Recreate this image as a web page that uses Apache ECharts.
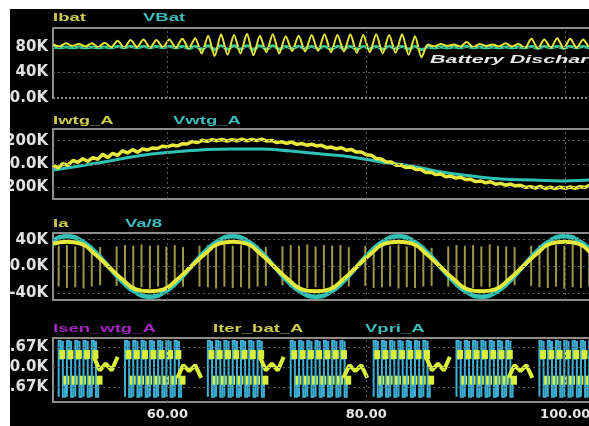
<!DOCTYPE html>
<html>
<head>
<meta charset="utf-8">
<script src="https://cdn.jsdelivr.net/npm/echarts@6.0.0/dist/echarts.min.js"></script>
<style>
html, body { margin: 0; padding: 0; background: #fff; }
#scope { position: absolute; left: 10px; top: 9px; width: 579px; height: 417px; }
</style>
</head>
<body>
<div id="scope"></div>
<script>
// time axis (ms)
var xTicks = [60, 80, 100];

// panel 1 : Ibat / VBat
var batT = [48.5,49.15,49.8,50.45,51.1,51.75,52.4,53.05,53.7,54.35,
  55.0,55.65,56.3,56.95,57.6,58.25,58.9,59.55,60.2,60.85,
  61.5,62.15,62.8,63.45,64.1,64.75,65.4,66.05,66.7,67.35,
  68.0,68.65,69.3,69.95,70.6,71.25,71.9,72.55,73.2,73.85,
  74.5,75.15,75.8,76.45,77.1,77.75,78.4,79.05,79.7,80.35,
  81.0,81.65,82.3,82.95,83.6,84.25,84.9,85.55,86.2,86.85,
  87.5,88.15,88.8,89.45,90.1,90.75,91.4,92.05,92.7,93.35,
  94.0,94.65,95.3,95.95,96.6,97.25,97.9,98.55,99.2,99.85,
  100.5,101.15,101.8,102.45,103.1,103.75];
var ibat = [84,81,86,82,85,81,86,80,87,80,
  90,79,91,80,92,79,91,80,92,79,
  93,78,94,70,98,66,100,68,99,70,
  101,67,98,72,100,70,97,74,98,73,
  99,74,100,72,99,73,100,71,99,72,
  100,70,99,71,100,68,97,64,84,81,
  85,82,84,81,88,80,85,82,84,81,
  86,81,85,79,93,78,92,79,94,78,
  93,79,92,80,93,80];
var vbat = [80,79,80,79,80,79,80,79,80,79,
  81,79,81,79,81,79,81,79,81,79,
  81,78,81,77,82,76,82,77,82,77,
  82,76,82,77,82,77,81,78,81,78,
  81,78,81,77,81,78,81,77,81,78,
  81,77,81,78,81,77,81,76,80,79,
  80,79,80,79,81,79,80,79,80,79,
  80,79,80,79,81,78,81,79,81,78,
  81,79,81,79,81,79];

// panel 2 : Iwtg_A / Vwtg_A
var wtgT = [48.5,49,49.5,50,50.5,51,51.5,52,52.5,53,53.5,54,54.5,55,55.5,56,56.5,57,
  57.5,58,58.5,59,59.5,60,60.5,61,61.5,62,62.5,63,63.5,64,64.5,65,65.5,66,66.5,67,
  67.5,68,68.5,69,69.5,70,70.5,71,71.5,72,72.5,73,73.5,74,74.5,75,75.5,76,76.5,77,
  77.5,78,78.5,79,79.5,80,80.5,81,81.5,82,82.5,83,83.5,84,84.5,85,85.5,86,86.5,87,
  87.5,88,88.5,89,89.5,90,90.5,91,91.5,92,92.5,93,93.5,94,94.5,95,95.5,96,96.5,97,
  97.5,98,98.5,99,99.5,100,100.5,101,101.5,102,102.5,103,103.5];
var iwtg = [-8,-34,4,-11,30,15,45,22,55,41,83,55,92,74,113,95,123,100,
  130,120,138,133,153,147,162,155,173,171,193,184,203,194,209,200,210,197,209,199,
  214,198,211,200,213,197,202,184,191,177,188,168,176,161,170,155,160,140,145,130,
  139,118,125,102,103,80,76,47,43,18,18,-11,-10,-31,-26,-47,-48,-72,-71,-91,
  -86,-109,-103,-121,-114,-133,-131,-151,-145,-161,-152,-174,-166,-182,-172,-187,-182,-201,-194,-206,
  -192,-210,-198,-211,-198,-208,-197,-208,-195,-201,-182,-196,-180];
var vwtgT = [48.5,51.2,54.2,57.3,60.3,63.3,66.4,69.4,72.4,75.5,
  78.5,81.5,84.5,87.6,90.6,93.6,96.7,99.7,102.6,103.6];
var vwtg = [-51,-17,26,72,100,120,129,129,111,86,
  60,17,-17,-69,-103,-129,-137,-146,-137,-135];

// panel 3 : Ia / Va/8
var vaT = [48.51,49.90,51.29,52.68,54.07,55.46,56.85,58.24,59.62,61.01,
  62.40,63.79,65.18,66.57,67.96,69.35,70.74,72.13,73.52,74.91,
  76.30,77.69,79.07,80.46,81.85,83.24,84.63,86.02,87.41,88.80,
  90.19,91.58,92.97,94.36,95.75,97.14,98.52,99.91,101.30,102.69,104.08];
var va = [39,45,39,22.5,0,-22.5,-39,-45,-39,-22.5,
  0,22.5,39,45,39,22.5,0,-22.5,-39,-45,
  -39,-22.5,0,22.5,39,45,39,22.5,0,-22.5,
  -39,-45,-39,-22.5,0,22.5,39,45,39,22.5,0];
var ia = [34,37,34,19,0,-19,-34,-37,-34,-19,
  0,19,34,37,34,19,0,-19,-34,-37,
  -34,-19,0,19,34,37,34,19,0,-19,
  -34,-37,-34,-19,0,19,34,37,34,19,0];
// switching spikes on Ia
var spikeT = [49.07,49.90,50.74,51.57,52.40,53.24,
  54.90,55.74,56.57,57.40,58.24,59.07,59.90,60.74,61.57,
  63.23,64.07,64.90,65.73,66.57,67.40,68.23,69.07,69.90,
  71.57,72.40,73.24,74.07,74.90,75.74,76.57,77.40,78.24,
  79.90,80.74,81.57,82.40,83.24,84.07,84.90,85.74,86.57,
  88.24,89.07,89.91,90.74,91.57,92.41,93.24,94.07,94.91,
  96.58,97.41,98.25,99.08,99.91,100.75,101.58,102.41,103.25];
var spikeHi = [31,32,30,32,31,29,
  30,32,31,33,31,32,30,32,29,
  31,32,30,33,31,32,30,31,29,
  30,32,31,33,30,32,31,32,29,
  31,30,32,31,33,30,32,31,28,
  30,32,31,32,30,33,31,30,29,
  31,32,30,32,31,33,30,32,31];
var spikeLo = [-30,-32,-31,-33,-30,-28,
  -29,-31,-32,-31,-33,-30,-32,-31,-30,
  -30,-31,-33,-30,-32,-31,-33,-30,-29,
  -28,-31,-30,-32,-31,-33,-30,-31,-30,
  -29,-32,-31,-30,-33,-31,-32,-30,-29,
  -30,-31,-33,-32,-30,-31,-33,-31,-28,
  -29,-31,-32,-30,-33,-31,-32,-30,-31];

// panel 4 : Isen_wtg_A / Iter_bat_A / Vpri_A
var pulseT = [49.07,49.90,50.74,51.57,52.40,
  55.74,56.57,57.40,58.24,59.07,59.90,60.74,
  64.07,64.90,65.73,66.57,67.40,68.23,69.07,
  72.40,73.24,74.07,74.90,75.74,76.57,77.40,
  80.74,81.57,82.40,83.24,84.07,84.90,85.74,
  89.07,89.91,90.74,91.57,92.41,93.24,94.07,
  97.41,98.25,99.08,99.91,100.75,101.58,102.41];
var vpriLevels = [3.5, 1.0, -3.9, -1.2];
var terLevels = [1.7, -1.7];
var wT = [52.6,53.2,53.8,54.4,55.0,'-',
  61.0,61.6,62.2,62.8,63.4,'-',
  69.3,69.9,70.5,71.1,71.7,'-',
  77.7,78.3,78.9,79.5,80.1,'-',
  86.0,86.6,87.2,87.8,88.4,'-',
  94.3,94.9,95.5,96.1,96.7];
var wV = [1.4,-0.4,0.5,-0.4,1.4,'-',
  -1.4,0.3,-0.5,0.3,-1.4,'-',
  1.4,-0.4,0.5,-0.4,1.4,'-',
  -1.4,0.3,-0.5,0.3,-1.4,'-',
  1.4,-0.4,0.5,-0.4,1.4,'-',
  -1.4,0.3,-0.5,0.3,-1.4];

function zip(a, b) {
  var out = [];
  for (var i = 0; i < a.length; i++) out.push([a[i], b[i]]);
  return out;
}

var YEL = '#e6e83c';
var TEAL = '#2fc2b4';
var BLUE = '#3cb0d4';
var GREENY = '#d8f03a';
var FRAME = '#8c8c8c';
var DOT = '#5a5a5a';

var sc = echarts.init(document.getElementById('scope'));

function grid(top, h, border) {
  return { left: 43, right: -12, top: top, height: h, show: border, borderColor: FRAME, borderWidth: 2,
    backgroundColor: 'transparent', outerBoundsMode: 'none', containLabel: false };
}
function xAx(i, labels) {
  return {
    type: 'value', gridIndex: i, min: 48.5, max: 103.6,
    axisLine: { show: false }, axisTick: { show: false }, splitLine: { show: false },
    axisLabel: labels ? {
      customValues: xTicks, margin: 6,
      formatter: function (v) { return v.toFixed(2); },
      color: '#e6e6e6', fontSize: 13, fontWeight: 'bold', fontFamily: 'DejaVu Sans'
    } : { show: false }
  };
}
function yAx(i, min, max, ticks, names) {
  return {
    type: 'value', gridIndex: i, min: min, max: max,
    axisLine: { show: i === 0, lineStyle: { color: FRAME, width: 2 } },
    axisTick: { show: false }, splitLine: { show: false },
    axisLabel: {
      customValues: ticks, margin: 5,
      formatter: function (v) { return names[ticks.indexOf(v)]; },
      color: '#e2e2e2', fontSize: 15, fontWeight: 'bold', fontFamily: 'DejaVu Sans'
    }
  };
}
function guides(yVals, extra) {
  var d = [{ xAxis: 60 }, { xAxis: 80 }, { xAxis: 100 }];
  yVals.forEach(function (v) { d.push({ yAxis: v }); });
  return {
    silent: true, symbol: ['none', 'none'], label: { show: false }, animation: false,
    lineStyle: { color: DOT, type: [2, 3], width: 1 },
    emphasis: { disabled: true },
    data: d.concat(extra || [])
  };
}
function label(txt, x, y, color, font, sx) {
  return { type: 'text', x: x, y: y, scaleX: sx || 1.85, z: 100,
    style: { text: txt, fill: color, font: font || 'bold 10px "Liberation Sans"', verticalAlign: 'middle' } };
}

var spikeData = [];
for (var s = 0; s < spikeT.length; s++) spikeData.push([spikeT[s], spikeLo[s], spikeHi[s]]);
var pulseData = pulseT.map(function (t) { return [t, vpriLevels[0], vpriLevels[2]]; });

var option = {
  backgroundColor: '#000',
  animation: false,
  grid: [grid(19, 70, false), grid(120, 70, true), grid(224, 67, true), grid(329, 64, true)],
  xAxis: [xAx(0, false), xAx(1, false), xAx(2, false), xAx(3, true)],
  yAxis: [
    yAx(0, 0, 110, [0, 40, 80], ['0.0K', '40K', '80K']),
    yAx(1, -300, 300, [-200, 0, 200], ['-200K', '0.0K', '200K']),
    yAx(2, -50, 50, [-40, 0, 40], ['-40K', '0.0K', '40K']),
    yAx(3, -4.6, 3.9, [-2.67, 0, 2.67], ['-2.67K', '0.0K', '2.67K'])
  ],
  graphic: [
    label('Ibat', 43, 9, '#cccc50'),
    label('VBat', 133, 9, '#3cbcbc'),
    label('Iwtg_A', 43, 112, '#cccc50'),
    label('Vwtg_A', 163, 112, '#3cbcbc'),
    label('Ia', 43, 215, '#cccc50'),
    label('Va/8', 115, 215, '#3cbcbc'),
    label('Isen_wtg_A', 43, 320, '#a424c0'),
    label('Iter_bat_A', 203, 320, '#cccc50'),
    label('Vpri_A', 355, 320, '#3cbcbc'),
    label('Battery Discharge', 420, 51, '#e8e8e8', 'italic bold 11px "Liberation Sans"', 1.95)
  ],
  series: [
    {
      name: 'VBat', type: 'line', xAxisIndex: 0, yAxisIndex: 0, showSymbol: false, smooth: true,
      lineStyle: { color: '#34cc96', width: 3 }, data: zip(batT, vbat),
      markLine: guides([40, 80], [
        { yAxis: 0, lineStyle: { color: '#8a8a8a', type: [2, 2], width: 2 } },
        { yAxis: 110, lineStyle: { color: FRAME, type: 'solid', width: 2 } }
      ])
    },
    {
      name: 'Ibat', type: 'line', xAxisIndex: 0, yAxisIndex: 0, showSymbol: false, smooth: 0.25,
      lineStyle: { color: YEL, width: 2 }, data: zip(batT, ibat)
    },
    {
      name: 'Vwtg_A', type: 'line', xAxisIndex: 1, yAxisIndex: 1, showSymbol: false, smooth: true,
      lineStyle: { color: TEAL, width: 3 }, data: zip(vwtgT, vwtg),
      markLine: guides([-200, 0, 200])
    },
    {
      name: 'Iwtg_A', type: 'line', xAxisIndex: 1, yAxisIndex: 1, showSymbol: false,
      lineStyle: { color: YEL, width: 3.5 }, data: zip(wtgT, iwtg)
    },
    {
      name: 'Ia spikes', type: 'custom', xAxisIndex: 2, yAxisIndex: 2,
      encode: { x: 0, y: [1, 2] },
      renderItem: function (params, api) {
        var a = api.coord([api.value(0), api.value(1)]);
        var b = api.coord([api.value(0), api.value(2)]);
        return { type: 'line', shape: { x1: a[0], y1: a[1], x2: b[0], y2: b[1] },
          style: { stroke: 'rgba(210,202,96,0.75)', lineWidth: 2 } };
      },
      data: spikeData,
      markLine: guides([-40, 0, 40])
    },
    {
      name: 'Va/8', type: 'line', xAxisIndex: 2, yAxisIndex: 2, showSymbol: false, smooth: true,
      lineStyle: { color: TEAL, width: 4.5 }, data: zip(vaT, va)
    },
    {
      name: 'Ia', type: 'line', xAxisIndex: 2, yAxisIndex: 2, showSymbol: false, smooth: true,
      lineStyle: { color: YEL, width: 4 }, data: zip(vaT, ia)
    },
    {
      name: 'Vpri_A', type: 'custom', xAxisIndex: 3, yAxisIndex: 3,
      encode: { x: 0, y: [1, 2] },
      renderItem: function (params, api) {
        var t = api.value(0);
        var p = function (dt, v) { return api.coord([t + dt, v]); };
        var hi = vpriLevels[0], mid = vpriLevels[1], lo = vpriLevels[2], mlo = vpriLevels[3];
        return { type: 'group', children: [
          { type: 'polyline', shape: { points: [p(0, lo), p(0, hi), p(0.22, hi), p(0.22, mid)] },
            style: { stroke: BLUE, lineWidth: 2, fill: null } },
          { type: 'polyline', shape: { points: [p(0.42, hi), p(0.42, lo), p(0.64, lo), p(0.64, mlo)] },
            style: { stroke: BLUE, lineWidth: 2, fill: null } },
          { type: 'rect', shape: { x: p(0.06, 0)[0], y: p(0, terLevels[0])[1] - 4.5, width: 6, height: 9 },
            style: { fill: GREENY } },
          { type: 'rect', shape: { x: p(0.48, 0)[0], y: p(0, terLevels[1])[1] - 4.5, width: 6, height: 9 },
            style: { fill: GREENY } }
        ] };
      },
      data: pulseData,
      markLine: guides([-2.67, 0, 2.67])
    },
    {
      name: 'Iter_bat_A', type: 'line', xAxisIndex: 3, yAxisIndex: 3, showSymbol: false,
      lineStyle: { color: GREENY, width: 4 }, data: zip(wT, wV)
    },
    {
      name: 'Isen_wtg_A', type: 'line', xAxisIndex: 3, yAxisIndex: 3, showSymbol: false,
      lineStyle: { color: '#a424c0', width: 1 }, data: []
    }
  ]
};
sc.setOption(option);
</script>
</body>
</html>
